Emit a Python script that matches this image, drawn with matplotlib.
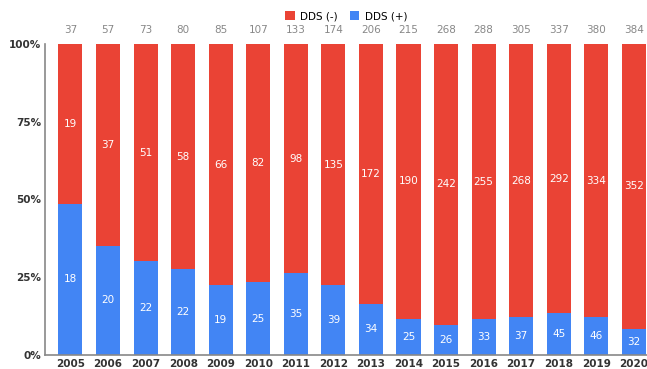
import numpy as np
import matplotlib.pyplot as plt

years = ['2005', '2006', '2007', '2008', '2009', '2010', '2011', '2012',
         '2013', '2014', '2015', '2016', '2017', '2018', '2019', '2020']
dds_neg = [19, 37, 51, 58, 66, 82, 98, 135, 172, 190, 242, 255, 268, 292, 334, 352]
dds_pos = [18, 20, 22, 22, 19, 25, 35, 39, 34, 25, 26, 33, 37, 45, 46, 32]

RED = '#EA4335'
BLUE = '#4285F4'

neg = np.array(dds_neg, dtype=float)
pos = np.array(dds_pos, dtype=float)
total = neg + pos
pos_pct = pos / total * 100
neg_pct = neg / total * 100
x = np.arange(len(years))

fig = plt.figure(figsize=(6.47, 3.69), dpi=100)
ax = fig.add_axes([0.07, 0.038, 0.93, 0.843])

w = 0.64
ax.bar(x, pos_pct, width=w, color=BLUE, label='DDS (+)')
ax.bar(x, neg_pct, width=w, bottom=pos_pct, color=RED, label='DDS (-)')

# segment counts inside the bars, totals above them
for i in range(len(years)):
    ax.text(x[i], pos_pct[i] / 2, dds_pos[i], ha='center', va='center',
            color='white', fontsize=7.5)
    ax.text(x[i], pos_pct[i] + neg_pct[i] / 2, dds_neg[i], ha='center',
            va='center', color='white', fontsize=7.5)
    ax.text(x[i], 103, int(total[i]), ha='center', va='bottom',
            color='#888888', fontsize=7.5)

ax.set_xlim(-0.67, 15.35)
ax.set_ylim(0, 100)
ax.set_xticks(x)
ax.set_xticklabels(years, fontsize=7.5, color='#333333', fontweight='bold')
ax.set_yticks([0, 25, 50, 75, 100])
ax.set_yticklabels(['0%', '25%', '50%', '75%', '100%'], fontsize=7.5,
                   color='#333333', fontweight='bold')
ax.tick_params(length=0, pad=3)
for s in ['top', 'right']:
    ax.spines[s].set_visible(False)
for s in ['left', 'bottom']:
    ax.spines[s].set_color('#888888')
    ax.spines[s].set_linewidth(1.2)

handles, labels = ax.get_legend_handles_labels()
fig.legend(handles[::-1], labels[::-1], loc='upper center',
           bbox_to_anchor=(0.535, 0.995), ncol=2, frameon=False, fontsize=7.5,
           handlelength=0.9, handleheight=0.9, columnspacing=1.2,
           handletextpad=0.5)

fig.savefig('out.png', dpi=100)
